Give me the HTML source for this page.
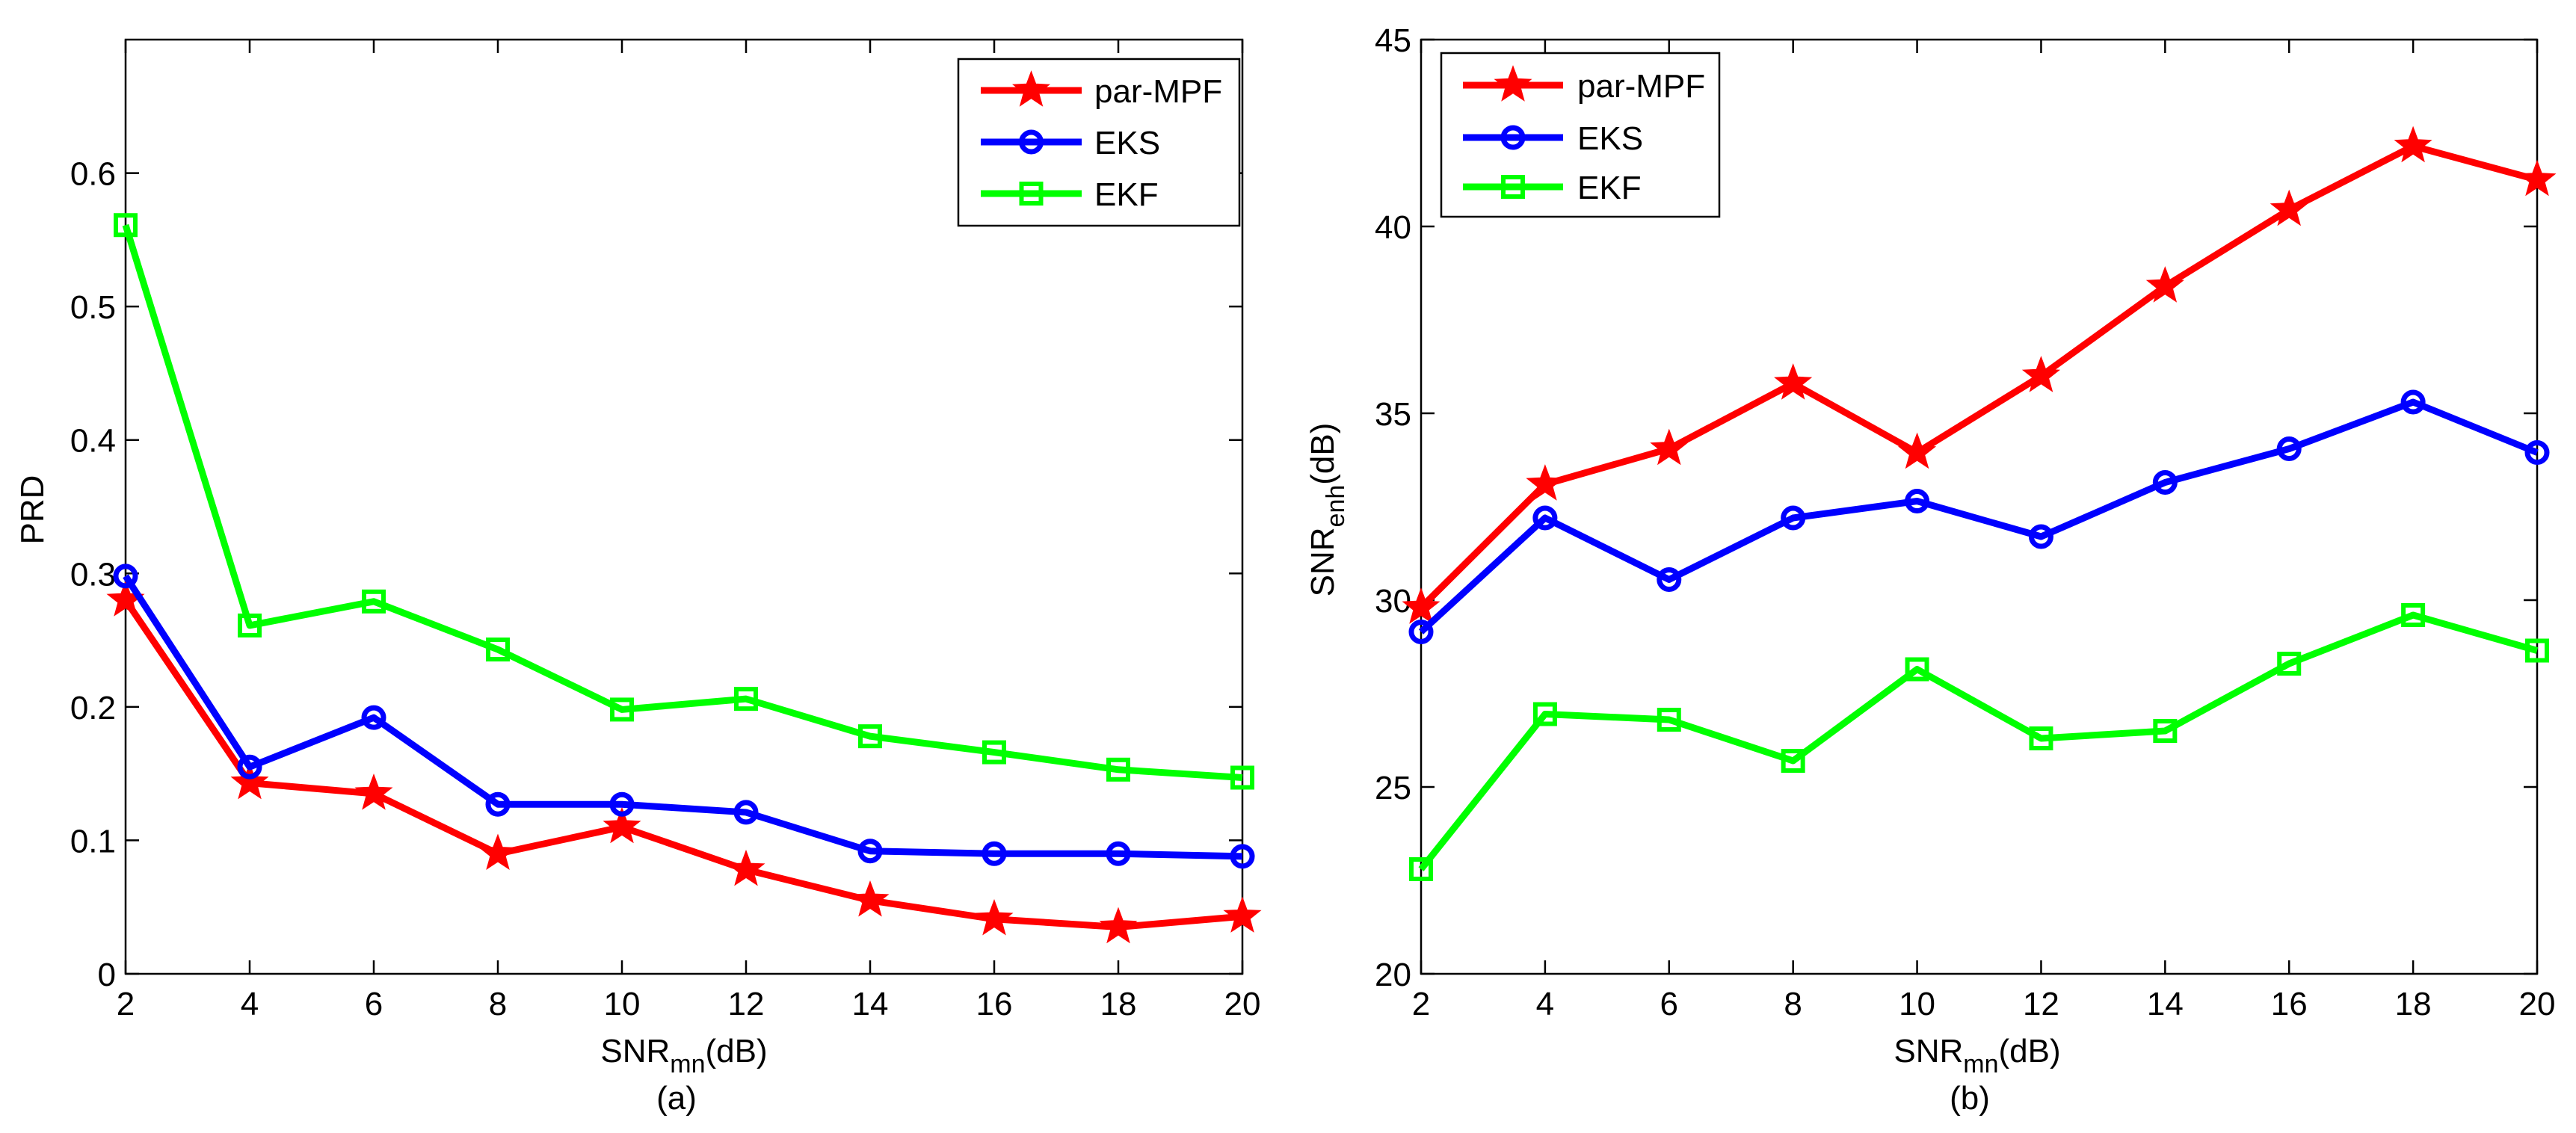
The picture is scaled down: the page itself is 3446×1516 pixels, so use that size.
<!DOCTYPE html>
<html><head><meta charset="utf-8"><style>
html,body{margin:0;padding:0;background:#fff;}
svg{display:block;font-family:"Liberation Sans",sans-serif;}
</style></head><body>
<svg id="fig" width="3446" height="1516" viewBox="0 0 3446 1516" xmlns="http://www.w3.org/2000/svg"></svg>
<script>
const xCats = [2,4,6,8,10,12,14,16,18,20];
const prdPar = [0.28,0.143,0.135,0.09,0.11,0.078,0.055,0.041,0.035,0.043];
const prdEks = [0.298,0.155,0.192,0.127,0.127,0.121,0.092,0.090,0.090,0.088];
const prdEkf = [0.561,0.261,0.279,0.243,0.198,0.206,0.178,0.166,0.153,0.147];
const snrPar = [29.8,33.1,34.05,35.8,33.95,36.0,38.4,40.45,42.15,41.25];
const snrEks = [29.15,32.2,30.55,32.2,32.65,31.7,33.15,34.05,35.3,33.95];
const snrEkf = [22.8,26.95,26.8,25.7,28.15,26.3,26.5,28.3,29.6,28.65];
const prdTicks = [0,0.1,0.2,0.3,0.4,0.5,0.6];
const prdTickLabels = ["0","0.1","0.2","0.3","0.4","0.5","0.6"];
const snrTicks = [20,25,30,35,40,45];
const snrTickLabels = ["20","25","30","35","40","45"];
const seriesNames = ["par-MPF","EKS","EKF"];

const NS="http://www.w3.org/2000/svg";
const svg=document.getElementById('fig');
function mk(tag,attrs,parent){const e=document.createElementNS(NS,tag);for(const k in attrs)e.setAttribute(k,attrs[k]);(parent||svg).appendChild(e);return e;}
const colors=["#ff0000","#0000ff","#00ff00"];
function starPts(cx,cy,R){const r=R*0.42;let p=[];for(let i=0;i<10;i++){const a=-Math.PI/2+i*Math.PI/5;const rr=i%2?r:R;p.push((cx+rr*Math.cos(a)).toFixed(1)+","+(cy+rr*Math.sin(a)).toFixed(1));}return p.join(" ");}
function marker(g,type,x,y,c){
  let m;
  if(type===0){m=mk('polygon',{points:starPts(x,y,24),fill:c,stroke:c,'stroke-width':2},g);}
  else if(type===1){m=mk('circle',{cx:x,cy:y,r:13,fill:'none',stroke:c,'stroke-width':7},g);}
  else {m=mk('rect',{x:x-13,y:y-13,width:26,height:26,fill:'none',stroke:c,'stroke-width':6},g);}
  return m;
}
function panel(opt){
  const {L,R,T,B,ymin,ymax,ticks,tickLabels,series,prefix,legend,ylab,sub,xlabCx}=opt;
  const g=mk('g',{});
  
  
  const xs=v=>L+(v-xCats[0])/(xCats[xCats.length-1]-xCats[0])*(R-L);
  const ys=v=>B-(v-ymin)/(ymax-ymin)*(B-T);
  const box=mk('rect',{x:L,y:T,width:R-L,height:B-T,fill:'none',stroke:'#000','stroke-width':2.5},g);
  
  
  xCats.forEach(v=>{const x=xs(v);
    mk('line',{x1:x,y1:B,x2:x,y2:B-18,stroke:'#000','stroke-width':2.5},g);
    mk('line',{x1:x,y1:T,x2:x,y2:T+18,stroke:'#000','stroke-width':2.5},g);
    const t=mk('text',{x:x,y:1358,'font-size':44,'text-anchor':'middle',fill:'#000'},g);t.textContent=v;
    
    
  });
  ticks.forEach((v,i)=>{const y=ys(v);
    mk('line',{x1:L,y1:y,x2:L+18,y2:y,stroke:'#000','stroke-width':2.5},g);
    mk('line',{x1:R,y1:y,x2:R-18,y2:y,stroke:'#000','stroke-width':2.5},g);
    const t=mk('text',{x:L-13,y:y+16,'font-size':44,'text-anchor':'end',fill:'#000'},g);t.textContent=tickLabels[i];
    
    
  });
  series.forEach((s,si)=>{
    const pts=s.map((v,i)=>xs(xCats[i])+","+ys(v)).join(" ");
    const pl=mk('polyline',{points:pts,fill:'none',stroke:colors[si],'stroke-width':9,'stroke-linejoin':'round'},g);
    
    
    s.forEach((v,i)=>{const m=marker(g,si,xs(xCats[i]),ys(v),colors[si]);
      
      });
  });
  // legend
  const lg=mk('g',{},g);
  
  
  mk('rect',{x:legend.x,y:legend.y,width:legend.w,height:legend.h,fill:'#fff',stroke:'#000','stroke-width':2.5},lg);
  seriesNames.forEach((n,i)=>{const y=legend.rows[i];
    const e=mk('g',{},lg);
    
    
    mk('line',{x1:legend.lx1,y1:y,x2:legend.lx2,y2:y,stroke:colors[i],'stroke-width':9},e);
    marker(e,i,(legend.lx1+legend.lx2)/2,y,colors[i]);
    const t=mk('text',{x:legend.tx,y:y+16,'font-size':44,fill:'#000'},e);t.textContent=n;
  });
  // x label
  const xl=mk('text',{x:xlabCx,y:1421,'font-size':44,'text-anchor':'middle',fill:'#000'},g);
  
  
  xl.innerHTML='SNR<tspan dy="14" font-size="34">mn</tspan><tspan dy="-14">(dB)</tspan>';
  const sl=mk('text',{x:xlabCx-10,y:1484,'font-size':44,'text-anchor':'middle',fill:'#000'},g);sl.textContent=sub;
  
  
  const yl=mk('text',{x:0,y:0,'font-size':44,'text-anchor':'middle',fill:'#000',transform:`translate(${ylab.x},${ylab.y}) rotate(-90)`},g);
  
  
  yl.innerHTML=ylab.html;
}
panel({L:168,R:1662,T:53,B:1303,ymin:0,ymax:0.7,ticks:prdTicks,tickLabels:prdTickLabels,
  series:[prdPar,prdEks,prdEkf],prefix:'prd',sub:'(a)',xlabCx:915,
  legend:{x:1282,y:79,w:376,h:223,rows:[121,190,259],lx1:1312,lx2:1447,tx:1464},
  ylab:{x:58,y:682,html:'PRD'}});
panel({L:1901,R:3394,T:53,B:1303,ymin:20,ymax:45,ticks:snrTicks,tickLabels:snrTickLabels,
  series:[snrPar,snrEks,snrEkf],prefix:'snr',sub:'(b)',xlabCx:2645,
  legend:{x:1928,y:71,w:372,h:219,rows:[114,184,250],lx1:1957,lx2:2091,tx:2110},
  ylab:{x:1784,y:682,html:'SNR<tspan dy="14" font-size="34">enh</tspan><tspan dy="-14">(dB)</tspan>'}});
</script>
</body></html>
